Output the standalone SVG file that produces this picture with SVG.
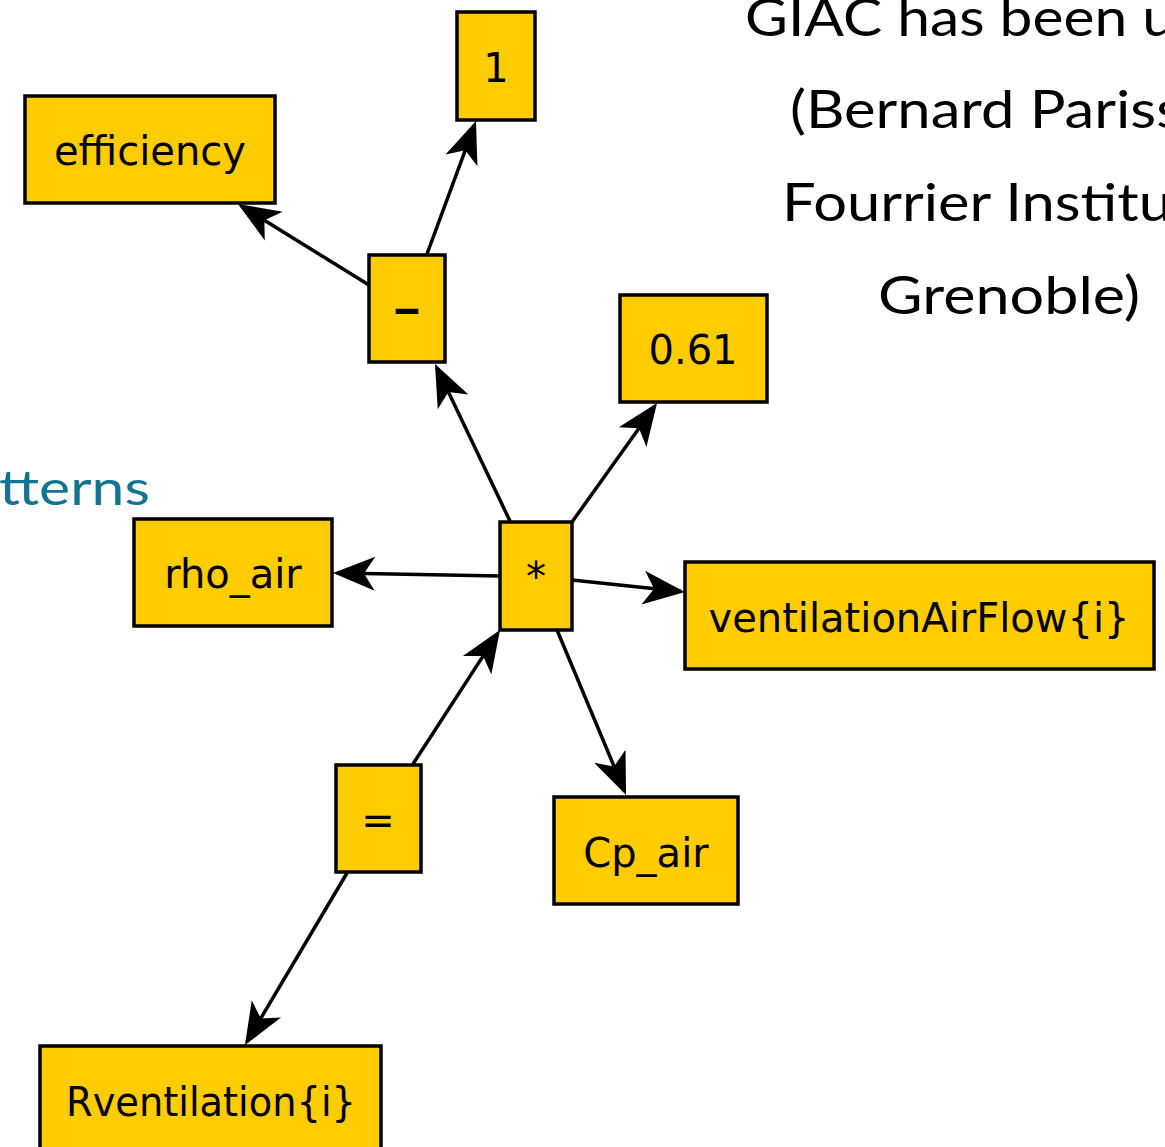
<svg xmlns="http://www.w3.org/2000/svg" width="1165" height="1147" viewBox="0 0 1165 1147">
  <style>
    .node rect { fill: #ffcc00; stroke: #000; stroke-width: 3.5; }
    .node text { font-family: "DejaVu Sans", "Liberation Sans", sans-serif; font-size: 40px; fill: #000; text-anchor: middle; }
    .edge { stroke: #000; stroke-width: 3.5; fill: none; marker-end: url(#arrow); }
    .caption { font-family: Lato, "Open Sans", sans-serif; font-size: 52px; fill: #000; }
    .heading { font-family: Lato, "Open Sans", sans-serif; font-size: 48px; fill: #117591; }
  </style>
  <defs>
    <marker id="arrow" markerUnits="userSpaceOnUse" viewBox="-46 -20 50 40" refX="-4" refY="0" markerWidth="50" markerHeight="40" orient="auto">
      <path d="M0,0 L-42,-17 L-31,0 L-42,17 Z" fill="#000"/>
    </marker>
  </defs>

  <rect width="1165" height="1147" fill="#fff"/>

  <!-- background slide text -->
  <g id="caption">
    <text class="caption" x="745" y="36" textLength="430" lengthAdjust="spacingAndGlyphs">GIAC has been u</text>
    <text class="caption" x="790" y="128" textLength="392" lengthAdjust="spacingAndGlyphs">(Bernard Pariss</text>
    <text class="caption" x="782" y="221" textLength="390" lengthAdjust="spacingAndGlyphs">Fourrier Institu</text>
    <text class="caption" x="878" y="314" textLength="262" lengthAdjust="spacingAndGlyphs">Grenoble)</text>
  </g>
  <g id="heading">
    <text class="heading" x="-1" y="505" textLength="151" lengthAdjust="spacingAndGlyphs">tterns</text>
  </g>

  <!-- connectors -->
  <g id="edges">
    <line class="edge" x1="427" y1="254" x2="474.6" y2="124.8"/>
    <line class="edge" x1="369" y1="285" x2="241.4" y2="206.1"/>
    <line class="edge" x1="510" y1="521" x2="436.7" y2="367.6"/>
    <line class="edge" x1="572" y1="522" x2="654.7" y2="406.3"/>
    <line class="edge" x1="500" y1="576" x2="337" y2="573.1"/>
    <line class="edge" x1="572" y1="580" x2="681" y2="591.6"/>
    <line class="edge" x1="557" y1="630" x2="624.5" y2="791.3"/>
    <line class="edge" x1="413" y1="764" x2="497.8" y2="633.4"/>
    <line class="edge" x1="347" y1="873" x2="247" y2="1041.6"/>
  </g>

  <!-- nodes -->
  <g id="node-one" class="node">
    <rect x="457" y="12" width="78" height="108"/>
    <text x="496" y="82">1</text>
  </g>
  <g id="node-efficiency" class="node">
    <rect x="25" y="96" width="250" height="107"/>
    <text x="150" y="165">efficiency</text>
  </g>
  <g id="node-minus" class="node">
    <rect x="369" y="255" width="76" height="107"/>
    <text x="407" y="323" textLength="26" lengthAdjust="spacingAndGlyphs" stroke="#000" stroke-width="2">-</text>
  </g>
  <g id="node-const" class="node">
    <rect x="620" y="295" width="147" height="107"/>
    <text x="693" y="364">0.61</text>
  </g>
  <g id="node-rho" class="node">
    <rect x="134" y="519" width="198" height="107"/>
    <text x="233" y="588">rho_air</text>
  </g>
  <g id="node-times" class="node">
    <rect x="500" y="522" width="72" height="108"/>
    <text x="536" y="591">*</text>
  </g>
  <g id="node-flow" class="node">
    <rect x="685" y="562" width="469" height="107"/>
    <text x="919" y="632">ventilationAirFlow{i}</text>
  </g>
  <g id="node-equals" class="node">
    <rect x="336" y="765" width="85" height="107"/>
    <text x="378" y="834">=</text>
  </g>
  <g id="node-cp" class="node">
    <rect x="554" y="797" width="184" height="107"/>
    <text x="646" y="867">Cp_air</text>
  </g>
  <g id="node-rvent" class="node">
    <rect x="40" y="1046" width="341" height="110"/>
    <text x="211" y="1116" textLength="290" lengthAdjust="spacingAndGlyphs">Rventilation{i}</text>
  </g>
</svg>
